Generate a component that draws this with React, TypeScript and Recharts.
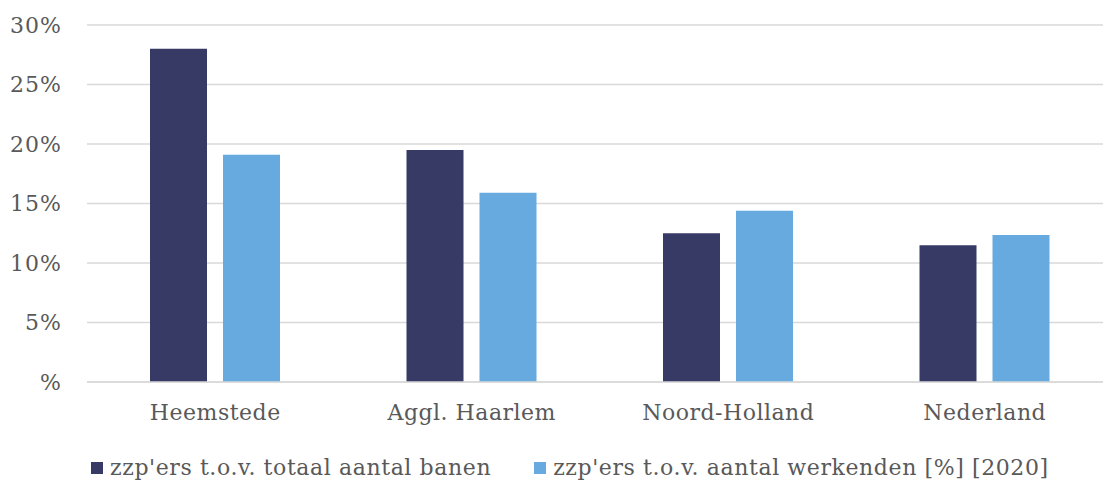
import { BarChart, Bar, XAxis, YAxis, CartesianGrid, Legend } from 'recharts';

const regions = ['Heemstede', 'Aggl. Haarlem', 'Noord-Holland', 'Nederland'];
const banenShare = [28.0, 19.5, 12.5, 11.5];
const werkendenShare = [19.1, 15.9, 14.4, 12.35];
const yTicks = [0, 5, 10, 15, 20, 25, 30];

const seriesNames = {
  banen: "zzp'ers t.o.v. totaal aantal banen",
  werkenden: "zzp'ers t.o.v. aantal werkenden [%] [2020]",
};

const data = regions.map((region, i) => ({
  region,
  banen: banenShare[i],
  werkenden: werkendenShare[i],
}));

const FONT = '"DejaVu Serif", serif';
const TEXT = '#595959';

function LegendRow() {
  const items = [
    { label: seriesNames.banen, color: '#363a65' },
    { label: seriesNames.werkenden, color: '#67aadf' },
  ];
  return (
    <div
      style={{
        display: 'flex',
        gap: 43,
        fontFamily: FONT,
        fontSize: 22,
        letterSpacing: 0.6,
        color: TEXT,
        whiteSpace: 'nowrap',
      }}
    >
      {items.map((it) => (
        <div key={it.label} style={{ display: 'flex', alignItems: 'center', gap: 7 }}>
          <div style={{ width: 12, height: 12, backgroundColor: it.color }} />
          <span>{it.label}</span>
        </div>
      ))}
    </div>
  );
}

export default function App() {
  return (
    <div style={{ position: 'absolute', left: 0, top: 0, width: 1103, height: 480, overflow: 'hidden', background: '#fff' }}>
      <BarChart
        width={1113}
        height={480}
        data={data}
        margin={{ top: 25, right: 0, left: 0, bottom: 13 }}
        barGap={16}
        barSize={57}
      >
        <CartesianGrid stroke="#d9d9d9" strokeWidth={1.5} vertical={false} />
        <XAxis
          dataKey="region"
          height={45}
          axisLine={{ stroke: '#d9d9d9', strokeWidth: 1.5 }}
          tickLine={false}
          tickSize={0}
          tickMargin={22}
          tick={{ fill: TEXT, fontSize: 22, fontFamily: FONT, letterSpacing: 0.5 }}
        />
        <YAxis
          width={87}
          domain={[0, 30]}
          ticks={yTicks}
          tickFormatter={(v: number) => (v === 0 ? '%' : `${v}%`)}
          axisLine={false}
          tickLine={false}
          tickSize={0}
          tickMargin={25}
          tick={{ fill: TEXT, fontSize: 22, fontFamily: FONT, letterSpacing: 1 }}
        />
        <Legend
          verticalAlign="bottom"
          height={40}
          content={() => <LegendRow />}
          wrapperStyle={{ left: 91, top: 455, width: 'auto' }}
        />
        <Bar dataKey="banen" name={seriesNames.banen} fill="#363a65" isAnimationActive={false} />
        <Bar dataKey="werkenden" name={seriesNames.werkenden} fill="#67aadf" isAnimationActive={false} />
      </BarChart>
    </div>
  );
}
